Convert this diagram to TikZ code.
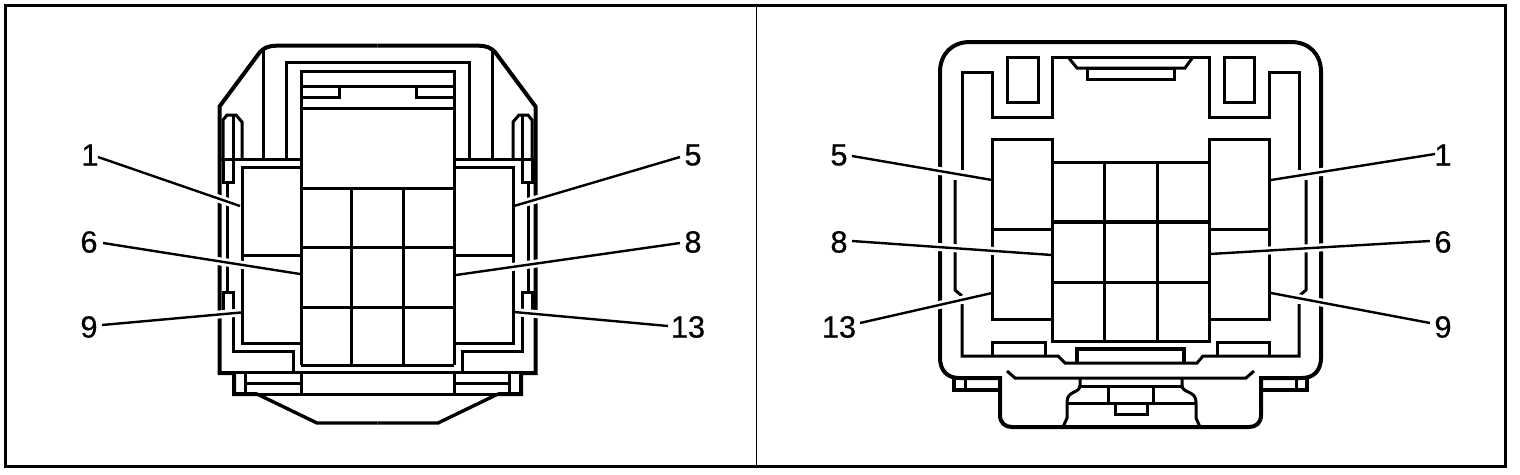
\documentclass[tikz,border=0pt]{standalone}
\usepackage{fontspec}
\setmainfont{Liberation Sans}
\newfontfamily\labfont[FakeBold=0.6]{Liberation Sans}
\usetikzlibrary{calc}
\tikzset{
  thin line/.style={line width=3pt},
  thick line/.style={line width=4pt},
  leader/.style={line width=2.4pt},
  halo/.style={line width=8pt,white,shorten >=4.5pt,shorten <=0pt},
  lab/.style={inner sep=0pt,font=\labfont\fontsize{30.7}{32}\selectfont}
}
\newcommand{\lefthalf}{%
  \draw[thick line] (377.5,45.7) -- (277,45.7) .. controls (268,45.7) and (264,48) .. (260,52) -- (219.5,106.5) -- (219.5,373) -- (234,373) -- (234,394) -- (257,394);
  \draw[thin line] (257,394) -- (377.5,394);
  \draw[thin line] (263,50) -- (263,159);
  \draw[thin line] (286,159) -- (286,62) -- (377.5,62);
  \draw[thin line] (301,365) -- (301,71) -- (377.5,71);
  \draw[thin line] (301,86) -- (377.5,86);
  \draw[thin line] (301,108) -- (377.5,108);
  \draw[thin line] (301,97) -- (339,97) -- (339,86);
  \draw[thin line] (219.5,159) -- (301,159);
  \draw[thin line] (301,167) -- (242,167) -- (242,343) -- (301,343);
  \draw[thin line] (242,255) -- (301,255);
  \draw[thin line] (301,188) -- (377.5,188);
  \draw[thin line] (301,247) -- (377.5,247);
  \draw[thin line] (301,307) -- (377.5,307);
  \draw[thin line] (301,365) -- (377.5,365);
  \draw[thin line] (351.5,188) -- (351.5,365);
  \draw[thin line] (223,159) -- (223,120) -- (227,115) -- (236,115) -- (242,122) -- (242,159);
  \draw[thin line] (233,115) -- (233,182) -- (223,182) -- (223,159);
  \draw[thin line] (227,182) -- (227,292);
  \draw[thin line] (223,316) -- (223,292) -- (233,292) -- (233,351) -- (293,351) -- (293,372);
  \draw[thin line] (219.5,372.5) -- (377.5,372.5);
  \draw[thin line] (301,372) -- (301,394);
  \draw[thin line] (245.5,372) -- (245.5,394);
  \draw[thin line] (245.5,383) -- (301,383);
  \draw[thick line,line width=3.4pt] (257,394) -- (317,423) -- (377.5,423);
}
\begin{document}
\begin{tikzpicture}[x=1pt,y=-1pt]
\useasboundingbox (0,0) rectangle (1520,474);
\draw[line width=3pt] (5.5,5.5) rectangle (1505.5,466.5);
\draw[line width=1.4pt] (756.3,5.5) -- (756.3,466.5);

% left connector
\lefthalf
\begin{scope}[shift={(755,0)},xscale=-1]
\lefthalf
\end{scope}

% right connector
\draw[thick line] (970,42) -- (1291,42) .. controls (1309,42) and (1321,54) .. (1321,72) -- (1321,358) .. controls (1321,370) and (1314,378) .. (1302,378) -- (1261,378) -- (1261,415) .. controls (1261,423) and (1256,427) .. (1249,427) -- (1012,427) .. controls (1005,427) and (1000,423) .. (1000,415) -- (1000,378) -- (959,378) .. controls (947,378) and (940,370) .. (940,358) -- (940,72) .. controls (940,54) and (952,42) .. (970,42) -- cycle;
\draw[thin line] (962,170) -- (962,72) -- (992,72) -- (992,117) -- (1052,117) -- (1052,57) -- (1209,57) -- (1209,117) -- (1269,117) -- (1269,72) -- (1299,72) -- (1299,170);
\draw[thin line] (1299,304) -- (1299,356) -- (1203,356) -- (1197,363) -- (1065,363) -- (1058,356) -- (962,356) -- (962,304);
\draw[thin line] (1007,57) rectangle (1038,102);
\draw[thin line] (1224,57) rectangle (1254,102);
\draw[thin line] (1068,57) -- (1077,68) -- (1185,68) -- (1193,57);
\draw[thin line] (1087,68) rectangle (1174,79);
\draw[thin line] (992,139) rectangle (1052,319);
\draw[thin line] (1209,139) rectangle (1269,319);
\draw[thin line] (992,229) -- (1052,229);
\draw[thin line] (1209,229) -- (1269,229);
\draw[thin line] (1052,162) rectangle (1209,341);
\draw[thick line,line width=3.6pt] (1052,222) -- (1209,222);
\draw[thin line] (1052,282) -- (1209,282);
\draw[thin line] (1104.5,162) -- (1104.5,341);
\draw[thin line] (1157.5,162) -- (1157.5,341);
\draw[thin line] (955,180) -- (955,290) -- (962,296);
\draw[thin line] (1306,180) -- (1306,290) -- (1299,296);
\draw[thin line] (992,356) -- (992,342) -- (1045,342) -- (1045,356);
\draw[thin line] (1217,356) -- (1217,342) -- (1269,342) -- (1269,356);
\draw[thick line,line width=3.6pt] (1077,363) -- (1077,349) -- (1184,349) -- (1184,363);
\draw[thin line] (1007,371) -- (1015,378) -- (1246,378) -- (1254,371);
\draw[thin line] (1080,378) -- (1080,385) .. controls (1080,394) and (1067,390) .. (1067,402) -- (1067,418) -- (1063,427);
\draw[thin line] (1182,378) -- (1182,385) .. controls (1182,394) and (1196,390) .. (1196,402) -- (1196,418) -- (1200,427);
\draw[thin line] (1080,386) -- (1182,386);
\draw[thin line] (1108,386) rectangle (1153,403);
\draw[thin line] (1067,403) -- (1196,403);
\draw[thin line] (1115,403) rectangle (1147,414);
\draw[thick line] (954,378) -- (954,390) -- (1000,390);
\draw[thin line] (965.5,378) -- (965.5,390);
\draw[thick line] (1307,378) -- (1307,390) -- (1261,390);
\draw[thin line] (1296,378) -- (1296,390);

% labels
\node[lab] (a1) at (90,155) {1};
\node[lab] (a6) at (89,242) {6};
\node[lab] (a9) at (89,327) {9};
\node[lab] (a5) at (693,155) {5};
\node[lab] (a8) at (693,242) {8};
\node[lab] (a13) at (688,327) {13};
\node[lab] (b5) at (839,155) {5};
\node[lab] (b8) at (839,242) {8};
\node[lab] (b13) at (839,327) {13};
\node[lab] (b1) at (1443,155) {1};
\node[lab] (b6) at (1443,242) {6};
\node[lab] (b9) at (1443,327) {9};

% leader ends
\foreach \n/\sx/\sy/\ex/\ey in {
  a1/8/2/240/206, a6/14/1/300/274, a9/13/-2/241/312.5,
  a5/-13/2/514/206, a8/-13/1/456/275, a13/-20/-1/514/312,
  b5/13/1/992/180, b8/13/-1/1052/255, b13/21/-4/992/293,
  b1/-8/-1/1271/180, b6/-13/-1/1210/254, b9/-13/-4/1271/293}{
  \coordinate (e\n) at (\ex,\ey);
  \draw[halo] ([shift={(\sx,\sy)}]\n.center) -- (e\n);
  \draw[leader] ([shift={(\sx,\sy)}]\n.center) -- (e\n);
}
\end{tikzpicture}
\end{document}
